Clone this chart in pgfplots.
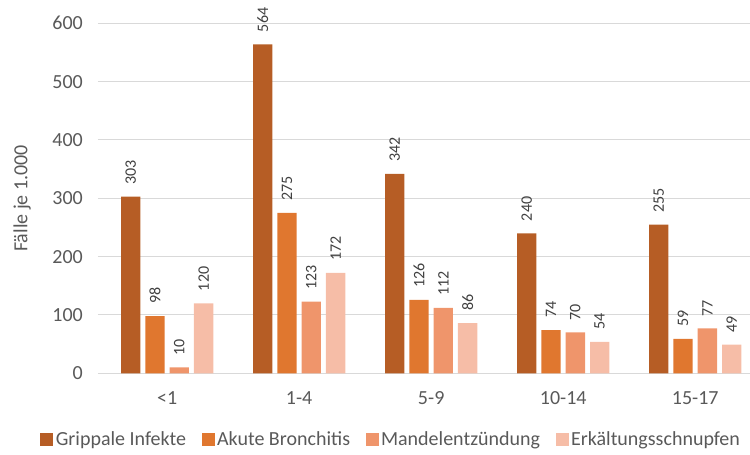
\documentclass[border=0pt]{standalone}
\usepackage{fontspec}
\setmainfont{Carlito}
\usepackage{pgfplots}
\pgfplotsset{compat=1.18}
\definecolor{txt}{HTML}{595959}
\definecolor{lbl}{HTML}{404040}
\definecolor{gridc}{HTML}{D9D9D9}
\definecolor{cA}{HTML}{B65D25}
\definecolor{cB}{HTML}{E0772F}
\definecolor{cC}{HTML}{EF956B}
\definecolor{cD}{HTML}{F6BDA7}
\begin{document}
\begin{tikzpicture}[x=1pt,y=1pt]
\begin{axis}[
  scale only axis, width=652pt, height=350pt,
  ymin=0, ymax=600, xmin=-0.524, xmax=4.415,
  ytick={0,100,...,600},
  xtick={0,...,4}, xticklabels={<1,1-4,5-9,10-14,15-17},
  axis line style={draw=none},
  major tick length=0pt,
  ymajorgrids, grid style={draw=gridc, line width=1pt},
  /pgf/number format/assume math mode=true,
  ticklabel style={font=\fontsize{20}{24}\selectfont, text=txt},
  yticklabel style={inner sep=0pt, xshift=-15pt},
  xticklabel style={inner sep=0pt, yshift=-18pt},
  ylabel={Fälle je 1.000},
  every axis y label/.style={at={(axis description cs:-0.1165,0.5)}, rotate=90, anchor=center, font=\fontsize{20}{24}\selectfont, text=txt},
  ybar=5pt, bar width=19.3pt,
  clip=false,
  nodes near coords,
  nodes near coords style={font=\fontsize{16}{19}\selectfont, text=lbl, yshift=12pt, rotate=90, anchor=west, inner sep=0pt},
  legend columns=4,
  legend style={at={(axis description cs:0.45,-0.19)}, anchor=center, draw=none, fill=none,
    font=\fontsize{20}{24}\selectfont, text=txt,
    /tikz/every even column/.append style={column sep=13pt},
    nodes={inner sep=2.5pt}},
  legend image code/.code={\fill[#1] (0pt,-6.5pt) rectangle (13pt,6.5pt);},
]
\addplot[fill=cA, draw=none] coordinates {(0,303) (1,564) (2,342) (3,240) (4,255)};
\addplot[fill=cB, draw=none] coordinates {(0,98) (1,275) (2,126) (3,74) (4,59)};
\addplot[fill=cC, draw=none] coordinates {(0,10) (1,123) (2,112) (3,70) (4,77)};
\addplot[fill=cD, draw=none] coordinates {(0,120) (1,172) (2,86) (3,54) (4,49)};
\legend{Grippale Infekte, Akute Bronchitis, Mandelentzündung, Erkältungsschnupfen}
\end{axis}
\pgfresetboundingbox
\path[use as bounding box] (-98,-81.7) rectangle (652,373.3);
\end{tikzpicture}
\end{document}
